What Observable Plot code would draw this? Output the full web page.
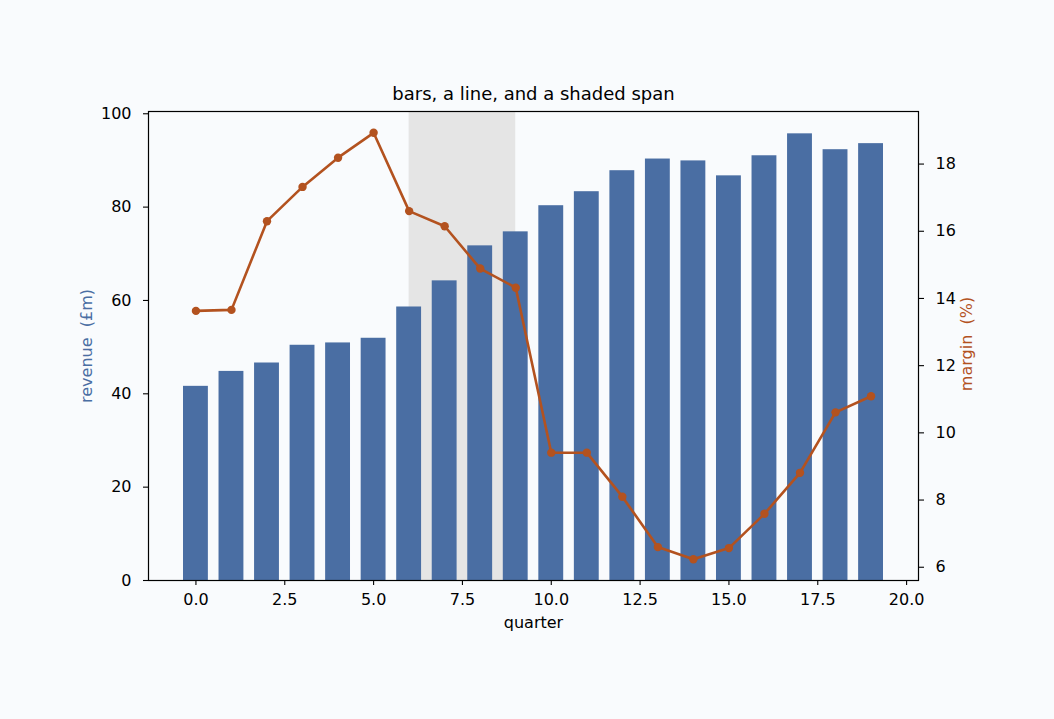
<!DOCTYPE html>
<html>
<head>
<meta charset="utf-8">
<script src="https://cdn.jsdelivr.net/npm/d3@7"></script>
<script src="https://cdn.jsdelivr.net/npm/@observablehq/plot@0.6"></script>
<style>
  html, body { margin: 0; padding: 0; background: #f9fbfd; }
  #chart { width: 1054px; height: 719px; }
  svg { display: block; }
</style>
</head>
<body>
<div id="chart"></div>
<script>
const quarters = [0,1,2,3,4,5,6,7,8,9,10,11,12,13,14,15,16,17,18,19];
const revenue = [41.6,44.8,46.6,50.4,50.9,51.9,58.6,64.2,71.7,74.7,80.3,83.3,87.8,90.3,89.9,86.7,91.0,95.7,92.3,93.6];
const margin = [13.63,13.66,16.30,17.32,18.19,18.93,16.60,16.15,14.89,14.32,9.41,9.41,8.10,6.60,6.24,6.57,7.59,8.81,10.61,11.09];
const shadedSpan = [6, 9];
const xTicks = [0,2.5,5,7.5,10,12.5,15,17.5,20];
const leftTicks = [0,20,40,60,80,100];
const rightTicks = [6,8,10,12,14,16,18];

const barHalf = 0.35;
const xLo = quarters[0] - barHalf, xHi = quarters[quarters.length-1] + barHalf;
const xPad = (xHi - xLo) * 0.05;
const yHi = d3.max(revenue) * 1.05;
const mLo0 = d3.min(margin), mHi0 = d3.max(margin);
const mPad = (mHi0 - mLo0) * 0.05;
const rLo = mLo0 - mPad, rHi = mHi0 + mPad;
const toLeft = m => (m - rLo) / (rHi - rLo) * yHi;
const fromLeft = v => v / yHi * (rHi - rLo) + rLo;

const barColor = "#4a6ea3";
const lineColor = "#b3521f";

const bars = quarters.map((q, i) => ({q, v: revenue[i]}));
const pts = quarters.map((q, i) => ({q, m: toLeft(margin[i])}));

const chart = Plot.plot({
  width: 1054,
  height: 719,
  marginLeft: 148,
  marginRight: 136,
  marginTop: 111,
  marginBottom: 139,
  style: {fontFamily: "DejaVu Sans", fontSize: "16px", background: "transparent", color: "black"},
  x: {domain: [xLo - xPad, xHi + xPad]},
  y: {domain: [0, yHi]},
  marks: [
    Plot.rect([shadedSpan], {x1: d => d[0], x2: d => d[1], y1: 0, y2: yHi, fill: "#e5e5e5"}),
    Plot.rectY(bars, {x1: d => d.q - barHalf, x2: d => d.q + barHalf, y1: 0, y2: "v", fill: barColor}),
    Plot.line(pts, {x: "q", y: "m", stroke: lineColor, strokeWidth: 2.6}),
    Plot.dot(pts, {x: "q", y: "m", fill: lineColor, r: 4.2}),
    Plot.frame({stroke: "black", strokeWidth: 1.2}),
    Plot.axisX(xTicks, {tickSize: 5, tickPadding: 8, tickFormat: d3.format(".1f"), label: null, fontSize: 16, strokeWidth: 1.1}),
    Plot.axisY(leftTicks, {anchor: "left", tickSize: 5, tickPadding: 12, label: null, fontSize: 16, strokeWidth: 1.1}),
    Plot.axisY(rightTicks.map(toLeft), {anchor: "right", tickSize: 5, tickPadding: 12, tickFormat: d => String(Math.round(fromLeft(d))), label: null, fontSize: 16, strokeWidth: 1.1}),
    Plot.text(["bars, a line, and a shaded span"], {frameAnchor: "top", lineAnchor: "bottom", dy: -11.5, fontSize: 18, fill: "black"}),
    Plot.text(["quarter"], {frameAnchor: "bottom", lineAnchor: "bottom", dy: 47, fontSize: 16, fill: "black"}),
    Plot.text(["revenue  (£m)"], {frameAnchor: "left", textAnchor: "middle", lineAnchor: "bottom", dx: -56.5, rotate: -90, fontSize: 16, fill: barColor}),
    Plot.text(["margin  (%)"], {frameAnchor: "right", textAnchor: "middle", lineAnchor: "bottom", dx: 53.5, dy: -2, rotate: -90, fontSize: 16, fill: lineColor})
  ]
});
document.getElementById("chart").appendChild(chart);
</script>
</body>
</html>
